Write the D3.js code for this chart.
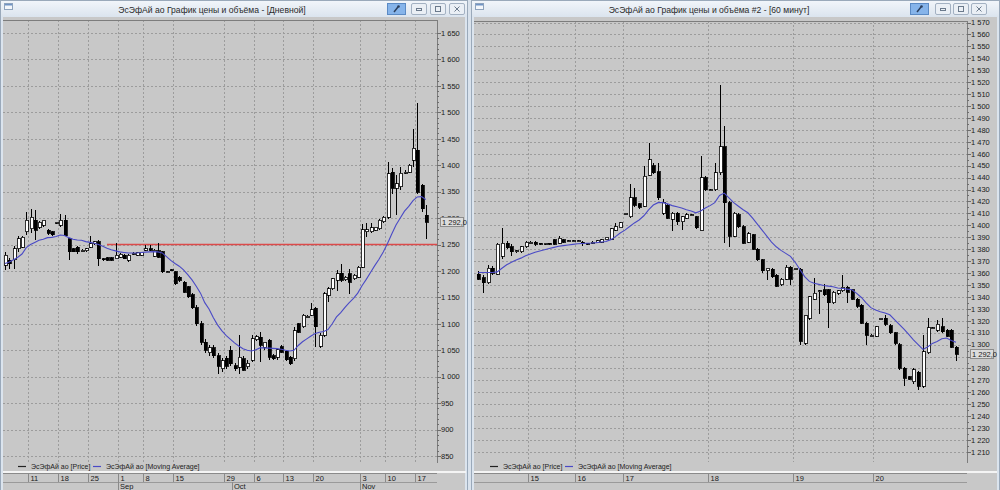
<!DOCTYPE html>
<html>
<head>
<meta charset="utf-8">
<title>ЭсЭфАй ао</title>
<script src="https://d3js.org/d3.v7.min.js"></script>
<style>
  body { margin: 0; background: #d9e2ec; }
  svg { display: block; }
  text { font-family: "Liberation Sans", Arial, sans-serif; }
</style>
</head>
<body>
<svg id="chart" width="1000" height="490"></svg>
<script>
// ---- daily window: OHLC + moving average ----
const dayOpen = [
  1211,1220,1221,1242,1245,1274,1280,1296,1283,1286,
  1277,1274,1290,1286,1296,1261,1242,1245,1239,1238,
  1245,1251,1255,1223,1225,1225,1223,1226,1230,1220,
  1233,1230,1230,1239,1242,1228,1238,1236,1198,1202,
  1198,1188,1179,1170,1155,1130,1100,1065,1045,1055,
  1040,1015,1035,1050,1021,1018,1034,1019,1031,1070,
  1075,1056,1069,1040,1037,1057,1048,1037,1034,1100,
  1094,1114,1116,1129,1058,1078,1154,1166,1182,1196,
  1183,1195,1185,1188,1207,1274,1274,1277,1280,1293,
  1302,1387,1356,1359,1387,1387,1409,1428,1362,1305];
const dayHigh = [
  1236,1224,1248,1267,1267,1312,1318,1315,1294,1297,
  1279,1276,1293,1308,1305,1263,1244,1247,1241,1243,
  1267,1257,1258,1225,1227,1227,1252,1233,1232,1232,
  1235,1236,1236,1249,1249,1241,1252,1238,1200,1204,
  1200,1190,1181,1172,1158,1135,1105,1072,1060,1060,
  1045,1035,1040,1058,1025,1078,1040,1031,1078,1078,
  1084,1066,1072,1042,1052,1059,1050,1039,1094,1102,
  1118,1116,1139,1131,1082,1160,1170,1187,1201,1214,
  1190,1204,1194,1210,1289,1290,1291,1284,1298,1304,
  1406,1394,1381,1397,1391,1402,1469,1517,1365,1324];
const dayLow = [
  1201,1204,1204,1236,1243,1268,1271,1258,1280,1284,
  1268,1266,1288,1284,1266,1220,1235,1232,1237,1236,
  1243,1250,1210,1219,1218,1218,1222,1225,1222,1217,
  1231,1229,1229,1238,1238,1226,1225,1196,1196,1199,
  1174,1180,1158,1149,1128,1095,1060,1045,1040,1035,
  1005,1008,1015,1020,1010,1005,1010,1015,1028,1068,
  1028,1050,1031,1032,1032,1044,1030,1022,1030,1082,
  1092,1112,1115,1056,1055,1076,1141,1164,1163,1180,
  1181,1157,1183,1186,1205,1264,1272,1275,1278,1291,
  1299,1346,1305,1353,1384,1385,1397,1346,1312,1261];
const dayClose = [
  1230,1214,1242,1261,1264,1296,1302,1277,1292,1296,
  1271,1268,1292,1296,1267,1236,1236,1236,1239,1242,
  1251,1255,1223,1221,1220,1220,1230,1232,1223,1230,
  1233,1234,1235,1242,1239,1239,1226,1198,1198,1201,
  1176,1182,1160,1151,1130,1100,1065,1050,1055,1040,
  1020,1030,1020,1024,1015,1037,1012,1025,1072,1076,
  1059,1065,1037,1034,1051,1046,1032,1024,1087,1084,
  1116,1114,1127,1094,1078,1157,1166,1185,1195,1182,
  1188,1179,1192,1207,1278,1278,1282,1283,1296,1302,
  1384,1356,1365,1385,1387,1400,1432,1349,1318,1292];
const dayMA = [
  1214,1217,1221,1226,1232,1244,1250,1254,1258,1260,
  1263,1263.5,1265,1268,1267,1263,1260,1258.5,1258,1255.5,
  1254,1252.5,1250,1246.5,1243,1240,1238,1236,1235,1234,
  1234,1234,1235,1235.5,1236,1236.5,1236,1234,1227,1220,
  1214,1209,1202,1193,1183,1171,1158,1140,1128,1112,
  1098,1087,1078,1071,1064,1058,1053,1050,1048.5,1051,
  1054.5,1054.5,1054,1053.5,1053,1052,1050,1048.5,1050,1059,
  1066,1071.5,1077,1081.5,1084,1085.5,1089,1100,1113,1121,
  1131,1140,1148,1158,1172,1184,1197,1210,1222,1236,
  1252,1270,1287,1300,1313,1322,1333,1340,1340.5,1335];
const dayTickBars   = [6, 13, 20, 27, 33, 40, 52, 59, 66, 73, 84, 90, 97];
const dayTickLabels = ["11","18","25","1","8","15","29","6","13","20","3","10","17"];
const dayMonthBars   = [27, 54, 84];
const dayMonthLabels = ["Sep", "Oct", "Nov"];
const dayLevel = 1250;
const dayLevelFrom = 24;

// ---- 60 minute window ----
const hourOpen = [
  1359,1356,1352,1364,1359,1374,1385,1382,1378,1378,
  1382,1386,1386,1385,1384,1385,1388,1385,1388,1387,
  1387,1387,1386,1385,1385,1386,1386,1388,1388.5,1396,
  1398,1410,1407,1423,1418,1416,1442,1450,1445,1410,
  1417,1405,1410,1403,1406,1409,1407,1396,1440,1430,
  1430,1444,1466,1419,1391,1409,1399,1386,1392,1380,
  1371,1362,1363,1358,1350,1355,1365,1364,1363,1301,
  1322,1338,1345,1346,1346,1335,1343,1345,1348,1346,
  1338,1333,1318,1308,1307,1322,1322,1316,1310,1300,
  1280,1273,1269,1277,1265,1293,1314,1312,1315,1312,
  1312,1298];
const hourHigh = [
  1362,1358,1367,1366,1385,1398,1387,1384,1379,1383,
  1387,1387,1387,1385.5,1385.5,1385.5,1388.5,1391,1388.5,1387.5,
  1387.5,1387.5,1386.5,1385.5,1386.5,1387.5,1388.5,1390.5,1397.5,1402,
  1403,1410.5,1435,1431,1419,1450,1469,1452,1452,1422,
  1418,1411,1411,1408,1410,1409.5,1408,1458,1441,1430.5,
  1452,1518,1483,1420,1411,1410,1400,1394,1393,1381,
  1372,1364.5,1364,1359,1356,1367,1366,1364.5,1364,1324,
  1341,1356,1346,1351,1347,1345,1346,1358,1349,1347,
  1339,1334,1319,1308.5,1316,1322.5,1325,1317,1311,1301,
  1281,1274,1280,1278,1308,1322,1315,1321,1322,1313,
  1313,1299];
const hourLow = [
  1354,1343,1351,1358,1358,1372,1380,1374,1377,1377,
  1381,1385,1383,1383.5,1383.5,1383.5,1383.5,1384.5,1385.5,1386.5,
  1386.5,1386.5,1383,1383.5,1384.5,1385.5,1385.5,1387.5,1388,1395.5,
  1397.5,1409.5,1406,1415,1414,1415,1441,1443,1421,1409,
  1405,1395,1400,1396,1405,1408.5,1397,1396,1429,1429.5,
  1429,1442,1385,1382,1390,1398,1384,1385,1379,1370,
  1360,1354,1356,1348,1349,1354,1350,1363.5,1300,1300,
  1321,1337,1326,1341,1314,1334,1342,1344,1335,1337,
  1331,1317,1300,1307.5,1306,1321.5,1316,1309,1300,1279,
  1265,1270,1267,1262,1264,1292,1313,1311,1310,1306,
  1297,1286];
const hourClose = [
  1355,1352,1364,1360,1384,1385,1381,1378,1378.5,1382,
  1386,1386,1384,1384,1385,1384,1384,1389,1386,1387,
  1387,1387,1385,1384,1386,1387,1388,1390,1397,1399,
  1402,1410,1423,1417,1415,1441,1455,1444,1423,1419,
  1406,1410,1403,1407,1409,1409,1398,1440,1430,1430,
  1444,1466,1419,1391,1410,1399,1385,1393,1380,1371,
  1362,1364,1357,1349,1355,1365,1355,1364,1303,1324,
  1340,1343,1345,1342,1335,1344,1345,1348,1344,1338,
  1332,1318,1308,1308,1315,1322,1317,1310,1301,1280,
  1272,1271,1279,1265,1294,1314,1314,1317,1311,1307,
  1298,1292];
const hourMA = [
  1360.5,1360.5,1360.5,1360.5,1361,1364,1367,1369,1371,1372.5,
  1374.5,1376,1377.5,1378.5,1379.5,1380.5,1381.5,1382.5,1383,1383.5,
  1384,1384.5,1384.8,1385,1385.2,1385.5,1386,1386.5,1388,1390.5,
  1393.5,1396,1399,1402,1404.5,1408,1413,1417,1419,1419,
  1418,1416.5,1415.5,1414.5,1413,1412,1410.5,1412,1414.5,1416.5,
  1419,1425,1427,1423,1419,1416,1413,1410.5,1406,1401,
  1396,1391,1386,1382,1379,1376.5,1374,1369,1363,1357,
  1353,1351.5,1350.5,1349.5,1349,1348.5,1347.5,1347,1346.5,1346,
  1343,1339.5,1335,1331,1329,1327.5,1326.5,1325,1321,1317,
  1313,1308.5,1304,1300,1296,1298,1301,1302.7,1305,1305.5,
  1303.5,1302];
const hourTickBars   = [11, 21, 31, 49, 67, 84];
const hourTickLabels = ["15","16","17","18","19","20"];

const lastPrice = 1292;

const svg = d3.select("#chart");

function fmt(v) {
  if (v < 1000) return String(v);
  return Math.floor(v / 1000) + " " + String(v % 1000).padStart(3, "0");
}

const grad = svg.append("defs").append("linearGradient")
  .attr("id", "titleGrad").attr("x1", 0).attr("y1", 0).attr("x2", 0).attr("y2", 1);
grad.append("stop").attr("offset", "0%").attr("stop-color", "#f1f5fa");
grad.append("stop").attr("offset", "100%").attr("stop-color", "#dbe4ee");

function drawWindow(w) {
  const g = svg.append("g");
  g.append("rect").attr("x", w.x + 0.5).attr("y", 0.5).attr("width", w.width - 1).attr("height", 495)
    .attr("fill", "#dbe4ee").attr("stroke", "#9aa9ba");
  g.append("rect").attr("x", w.x + 1).attr("y", 1).attr("width", w.width - 2).attr("height", 16)
    .attr("fill", "url(#titleGrad)");
  // window icon
  g.append("rect").attr("x", w.x + 4.5).attr("y", 3.5).attr("width", 8).attr("height", 6)
    .attr("fill", "#f4f7fb").attr("stroke", "#8ea3bd");
  g.append("rect").attr("x", w.x + 5).attr("y", 4).attr("width", 7).attr("height", 1.5).attr("fill", "#6f93c4");
  g.append("text").attr("x", w.titleX).attr("y", 12.5).attr("text-anchor", "middle")
    .attr("font-size", 8.6).attr("fill", "#2a2a2a").text(w.title);
  // pin button
  g.append("rect").attr("x", w.pinX + 0.5).attr("y", 3.5).attr("width", 18).attr("height", 11)
    .attr("fill", "#86b4ea").attr("stroke", "#5b8ac4");
  g.append("line").attr("x1", w.pinX + 7).attr("y1", 12).attr("x2", w.pinX + 11).attr("y2", 7)
    .attr("stroke", "#2b3f5c").attr("stroke-width", 1.5);
  g.append("circle").attr("cx", w.pinX + 11.5).attr("cy", 6.5).attr("r", 1.3).attr("fill", "#2b3f5c");
  w.buttons.forEach((bx, k) => {
    g.append("rect").attr("x", bx + 0.5).attr("y", 3.5).attr("width", 15).attr("height", 11)
      .attr("rx", 1.5).attr("fill", "#eaeff5").attr("stroke", "#a3b1c2");
    if (k === 0) {
      g.append("rect").attr("x", bx + 5.5).attr("y", 8.5).attr("width", 5).attr("height", 2)
        .attr("fill", "none").attr("stroke", "#6b7a8c");
    } else if (k === 1) {
      g.append("rect").attr("x", bx + 5.5).attr("y", 6.5).attr("width", 5).attr("height", 5)
        .attr("fill", "none").attr("stroke", "#6b7a8c");
    } else {
      g.append("path").attr("d", `M${bx + 5.5},${6.5}L${bx + 10.5},${11.5}M${bx + 10.5},${6.5}L${bx + 5.5},${11.5}`)
        .attr("stroke", "#6b7a8c");
    }
  });
  // client area
  g.append("rect").attr("x", w.x + 3).attr("y", 17).attr("width", w.width - 6).attr("height", 473)
    .attr("fill", "#c8c8c8");
}

function drawPanel(p) {
  const g = svg.append("g");
  const n = p.open.length;
  const x = d3.scaleLinear().domain([0, n - 1]).range([p.firstX, p.lastX]);
  const step = (p.lastX - p.firstX) / (n - 1);
  const y = d3.scaleLinear().domain([p.yMin, p.yMax]).range([p.yMinPx, p.yMaxPx]);
  const ticks = d3.range(p.yMin, p.yMax + 1, p.yStep);
  const minor = d3.range(p.yMin, p.yMax + 0.1, p.minorStep);
  const tickX = i => Math.round(x(i) - step / 2) + 0.5;
  const py = y(lastPrice);
  // the price marker hides the axis label it sits on
  const shown = ticks.filter(d => Math.abs(y(d) - py) > 2.5);

  const grid = g.append("g").attr("stroke", "#9c9c9c").attr("stroke-dasharray", "2,2")
    .attr("shape-rendering", "crispEdges");
  grid.selectAll("line.h").data(ticks).join("line").attr("class", "h")
    .attr("x1", p.left).attr("x2", p.right)
    .attr("y1", d => Math.round(y(d)) + 0.5).attr("y2", d => Math.round(y(d)) + 0.5);
  grid.selectAll("line.v").data(p.tickBars).join("line").attr("class", "v")
    .attr("x1", tickX).attr("x2", tickX)
    .attr("y1", p.top).attr("y2", p.bottom);

  // frame: top line and price axis
  g.append("path").attr("d", `M${p.left},${p.top + 0.5}H${p.right + 0.5}V${p.bottom + 1}`)
    .attr("fill", "none").attr("stroke", "#7d7d7d").attr("shape-rendering", "crispEdges");
  g.append("g").attr("stroke", "#6d6d6d").attr("shape-rendering", "crispEdges")
    .selectAll("line").data(minor).join("line")
    .attr("x1", p.right).attr("x2", d => p.right + (ticks.includes(d) ? 4 : 2))
    .attr("y1", d => Math.round(y(d)) + 0.5).attr("y2", d => Math.round(y(d)) + 0.5);
  g.append("g").attr("font-size", 7.5).attr("fill", "#1a1a1a")
    .selectAll("text").data(shown).join("text")
    .attr("x", p.right + 4).attr("y", d => y(d) + 2.8).text(fmt);

  // level line
  if (p.level !== undefined) {
    g.append("line").attr("x1", x(p.levelFrom)).attr("x2", p.right)
      .attr("y1", y(p.level)).attr("y2", y(p.level))
      .attr("stroke", "#dc4a4a").attr("stroke-width", 1.4);
  }

  // candles
  const idx = d3.range(n);
  const cg = g.append("g").attr("shape-rendering", "crispEdges");
  cg.selectAll("line").data(idx).join("line")
    .attr("x1", i => Math.round(x(i)) + 0.5).attr("x2", i => Math.round(x(i)) + 0.5)
    .attr("y1", i => y(p.high[i])).attr("y2", i => y(p.low[i]))
    .attr("stroke", "#000");
  cg.selectAll("rect").data(idx).join("rect")
    .attr("x", i => Math.round(x(i)) - 1)
    .attr("width", 3)
    .attr("y", i => y(Math.max(p.open[i], p.close[i])))
    .attr("height", i => Math.max(1, Math.abs(y(p.open[i]) - y(p.close[i]))))
    .attr("fill", i => p.close[i] >= p.open[i] ? "#ffffff" : "#000000")
    .attr("stroke", "#000").attr("stroke-width", 0.8);

  // moving average
  g.append("path").datum(idx)
    .attr("d", d3.line().x(i => x(i)).y(i => y(p.ma[i])))
    .attr("fill", "none").attr("stroke", "#4a4ac6").attr("stroke-width", 1.1);

  // last price box (drawn over the axis, as in the terminal)
  g.append("rect").attr("x", p.right + 3.5).attr("y", Math.round(py) - 4.5).attr("width", 23).attr("height", 9)
    .attr("fill", "#dcdcdc").attr("stroke", "#8c8c8c");
  g.append("text").attr("x", p.right + 5).attr("y", py + 2.8).attr("font-size", 7.5)
    .attr("fill", "#1a1a1a").text(fmt(lastPrice) + ",0");

  // legend
  const lg = g.append("g").attr("font-size", 7).attr("fill", "#222");
  [["#222", "ЭсЭфАй ао [Price]"], ["#4a4ac6", "ЭсЭфАй ао [Moving Average]"]].forEach((d, k) => {
    const lx = p.legendX[k];
    lg.append("line").attr("x1", lx).attr("x2", lx + 8).attr("y1", 466.5).attr("y2", 466.5)
      .attr("stroke", d[0]).attr("stroke-width", 1.2);
    lg.append("text").attr("x", lx + 13).attr("y", 469).text(d[1]);
  });

  // time axis
  const ax = g.append("g").attr("shape-rendering", "crispEdges");
  ax.append("rect").attr("x", p.left).attr("y", 471).attr("width", p.axisEnd - p.left).attr("height", 1.5)
    .attr("fill", "#f4f4f4");
  ax.append("line").attr("x1", p.left).attr("x2", p.right).attr("y1", 473.5).attr("y2", 473.5).attr("stroke", "#8a8a8a");
  ax.append("line").attr("x1", p.left).attr("x2", p.right).attr("y1", 482.5).attr("y2", 482.5).attr("stroke", "#9a9a9a");
  ax.selectAll("line.t").data(p.tickBars).join("line").attr("class", "t")
    .attr("x1", tickX).attr("x2", tickX).attr("y1", 473).attr("y2", 482).attr("stroke", "#8a8a8a");
  g.append("g").attr("font-size", 7.5).attr("fill", "#1a1a1a")
    .selectAll("text").data(p.tickBars).join("text")
    .attr("x", i => tickX(i) + 2).attr("y", 480.5).text((d, k) => p.tickLabels[k]);
  if (p.monthBars) {
    ax.selectAll("line.m").data(p.monthBars).join("line").attr("class", "m")
      .attr("x1", tickX).attr("x2", tickX).attr("y1", 482).attr("y2", 490).attr("stroke", "#8a8a8a");
    g.append("g").attr("font-size", 7.5).attr("fill", "#1a1a1a")
      .selectAll("text").data(p.monthBars).join("text")
      .attr("x", i => tickX(i) + 1.5).attr("y", 489).text((d, k) => p.monthLabels[k]);
  }
}

drawWindow({ x: 0, width: 468, title: "ЭсЭфАй ао График цены и объёма - [Дневной]", titleX: 212,
  pinX: 387, buttons: [411, 430, 449] });
drawWindow({ x: 471, width: 529, title: "ЭсЭфАй ао График цены и объёма #2 - [60 минут]", titleX: 709,
  pinX: 910, buttons: [935, 953, 971] });

drawPanel({
  open: dayOpen, high: dayHigh, low: dayLow, close: dayClose, ma: dayMA,
  left: 3, right: 437, top: 20, bottom: 462, axisEnd: 466,
  firstX: 5, lastX: 425.75,
  yMin: 850, yMax: 1650, yStep: 50, minorStep: 10, yMinPx: 456, yMaxPx: 33,
  tickBars: dayTickBars, tickLabels: dayTickLabels,
  monthBars: dayMonthBars, monthLabels: dayMonthLabels,
  level: dayLevel, levelFrom: dayLevelFrom,
  legendX: [18, 93]
});

drawPanel({
  open: hourOpen, high: hourHigh, low: hourLow, close: hourClose, ma: hourMA,
  left: 474, right: 967, top: 21, bottom: 462, axisEnd: 997,
  firstX: 478.3, lastX: 956,
  yMin: 1210, yMax: 1570, yStep: 10, minorStep: 5, yMinPx: 452, yMaxPx: 22.5,
  tickBars: hourTickBars, tickLabels: hourTickLabels,
  legendX: [490, 565]
});
</script>
</body>
</html>
